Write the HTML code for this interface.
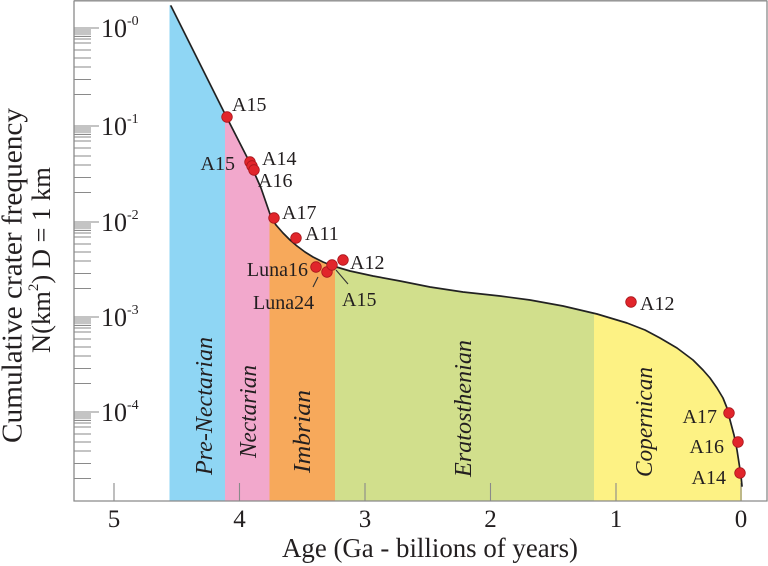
<!DOCTYPE html>
<html>
<head>
<meta charset="utf-8">
<style>
  html, body { margin: 0; padding: 0; background: #ffffff; }
  svg { display: block; }
  text { font-family: "Liberation Serif", "DejaVu Serif", serif; fill: #231f20; }
</style>
</head>
<body>
<svg width="768" height="566" viewBox="0 0 768 566" xmlns="http://www.w3.org/2000/svg">
  <rect x="0" y="0" width="768" height="566" fill="#ffffff"/>
  <defs>
    <clipPath id="under">
      <polygon points="169.5,5 171,6 198,60 225,114 250,163 261,188 271,217 276,225 283,233 290,240 297,246 305,252 313,257 323,262 333,266 350,271 373,276 400,281 430,287 463,292 500,296 530,300 563,306 597,314 627,323 645,330 660,338 677,348 693,360 703,370 710,378 717,388 723,398 727,408 730,420 734,435 737,450 739,463 741,476 742,486 742,501 169.5,501"/>
    </clipPath>
  </defs>

  <!-- period bands -->
  <g clip-path="url(#under)">
    <rect x="169.5" y="0" width="55.5" height="502" fill="#8fd6f4"/>
    <rect x="225" y="0" width="44.5" height="502" fill="#f2a8cc"/>
    <rect x="269.5" y="0" width="65.5" height="502" fill="#f7a95b"/>
    <rect x="335" y="0" width="259" height="502" fill="#d1df8c"/>
    <rect x="594" y="0" width="149" height="502" fill="#fdf284"/>
  </g>

  <!-- frame -->
  <g stroke="#8a8a8a" stroke-width="1.3" fill="none">
    <line x1="74" y1="0.8" x2="767" y2="0.8"/>
    <line x1="74" y1="0.5" x2="74" y2="501.5"/>
    <line x1="767" y1="0.5" x2="767" y2="501.5"/>
    <line x1="73.5" y1="501" x2="767.5" y2="501"/>
  </g>

  <!-- y ticks -->
  <path stroke="#8a8a8a" stroke-width="1.1" fill="none" d="
    M74 28H99 M74 30H91 M74 32H91 M74 34H91 M74 36.4H91 M74 39H91 M74 43H91 M74 50H91 M74 58H91 M74 67H91 M74 79.5H91 M74 94.5H91
    M74 126H99 M74 128H91 M74 130H91 M74 132H91 M74 134.4H91 M74 137H91 M74 141H91 M74 148H91 M74 156H91 M74 165H91 M74 177.5H91 M74 192.5H91
    M74 222H99 M74 224H91 M74 226H91 M74 228H91 M74 230.4H91 M74 233H91 M74 237H91 M74 244H91 M74 252H91 M74 261H91 M74 273.5H91 M74 288.5H91
    M74 317H99 M74 319H91 M74 321H91 M74 323H91 M74 325.4H91 M74 328H91 M74 332H91 M74 339H91 M74 347H91 M74 356H91 M74 368.5H91 M74 383.5H91
    M74 412H99 M74 414H91 M74 416H91 M74 418H91 M74 420.4H91 M74 423H91 M74 427H91 M74 434H91 M74 442H91 M74 451H91 M74 463.5H91 M74 478.5H91"/>

  <!-- x ticks -->
  <path stroke="#8a8a8a" stroke-width="1.1" fill="none" d="M114 483V501 M239.5 483V501 M365 483V501 M490.5 483V501 M616 483V501 M741 483V501"/>

  <!-- y tick labels -->
  <g font-size="26" fill="#333">
    <text x="101" y="37">10<tspan font-size="14" dy="-12">-0</tspan></text>
    <text x="101" y="135">10<tspan font-size="14" dy="-12">-1</tspan></text>
    <text x="101" y="231">10<tspan font-size="14" dy="-12">-2</tspan></text>
    <text x="101" y="326">10<tspan font-size="14" dy="-12">-3</tspan></text>
    <text x="101" y="421">10<tspan font-size="14" dy="-12">-4</tspan></text>
  </g>

  <!-- x tick labels -->
  <g font-size="25" text-anchor="middle">
    <text x="114" y="527">5</text>
    <text x="239.5" y="527">4</text>
    <text x="365" y="527">3</text>
    <text x="490.5" y="527">2</text>
    <text x="616" y="527">1</text>
    <text x="741" y="527">0</text>
  </g>

  <!-- axis titles -->
  <text x="282" y="557" font-size="27" textLength="296" lengthAdjust="spacingAndGlyphs">Age (Ga - billions of years)</text>
  <text transform="translate(21.5,443) rotate(-90)" font-size="29" textLength="335" lengthAdjust="spacingAndGlyphs">Cumulative crater frequency</text>
  <text transform="translate(50,353) rotate(-90)" font-size="26.5">N(km<tspan font-size="15" dy="-12">2</tspan><tspan dy="12">) D = 1 km</tspan></text>

  <!-- period labels -->
  <g font-size="24" font-style="italic">
    <text transform="translate(212,475) rotate(-90)" fill="#1f3c5d" textLength="138" lengthAdjust="spacingAndGlyphs">Pre-Nectarian</text>
    <text transform="translate(256,458) rotate(-90)" fill="#5b2a4e" textLength="93" lengthAdjust="spacingAndGlyphs">Nectarian</text>
    <text transform="translate(310,473) rotate(-90)" fill="#4c2a10" textLength="83" lengthAdjust="spacingAndGlyphs">Imbrian</text>
    <text transform="translate(471,477) rotate(-90)" fill="#3b4020" textLength="137" lengthAdjust="spacingAndGlyphs">Eratosthenian</text>
    <text transform="translate(652,477) rotate(-90)" fill="#3d3a1a" textLength="110" lengthAdjust="spacingAndGlyphs">Copernican</text>
  </g>

  <!-- curve -->
  <polyline fill="none" stroke="#222" stroke-width="1.7" stroke-linejoin="round" stroke-linecap="round"
    points="171,6 198,60 225,114 250,163 261,188 271,217 276,225 283,233 290,240 297,246 305,252 313,257 323,262 333,266 350,271 373,276 400,281 430,287 463,292 500,296 530,300 563,306 597,314 627,323 645,330 660,338 677,348 693,360 703,370 710,378 717,388 723,398 727,408 730,420 734,435 737,450 739,463 741,476 742,486"/>

  <!-- leader lines -->
  <g stroke="#333" stroke-width="1.1">
    <line x1="318" y1="277" x2="313" y2="287"/>
    <line x1="336" y1="270" x2="348" y2="284"/>
  </g>

  <!-- data points -->
  <g fill="#e1252b" stroke="#a8161c" stroke-width="0.8">
    <circle cx="227" cy="117" r="5.3"/>
    <circle cx="250" cy="162" r="5.3"/>
    <circle cx="252" cy="166" r="5.3"/>
    <circle cx="254" cy="170" r="5.3"/>
    <circle cx="274" cy="218" r="5.3"/>
    <circle cx="296" cy="238" r="5.3"/>
    <circle cx="316" cy="267" r="5.3"/>
    <circle cx="327" cy="272" r="5.3"/>
    <circle cx="332" cy="265" r="5.3"/>
    <circle cx="343" cy="260" r="5.3"/>
    <circle cx="631" cy="302" r="5.3"/>
    <circle cx="729" cy="413" r="5.3"/>
    <circle cx="738" cy="442" r="5.3"/>
    <circle cx="740" cy="473" r="5.3"/>
  </g>

  <!-- point labels -->
  <g font-size="20" fill="#2a2a2a">
    <text x="232" y="111">A15</text>
    <text x="235" y="170" text-anchor="end">A15</text>
    <text x="262" y="165">A14</text>
    <text x="258" y="187">A16</text>
    <text x="282" y="219">A17</text>
    <text x="305" y="240">A11</text>
    <text x="350" y="269">A12</text>
    <text x="308" y="276" text-anchor="end">Luna16</text>
    <text x="253" y="309">Luna24</text>
    <text x="342" y="306">A15</text>
    <text x="640" y="310">A12</text>
    <text x="717" y="423" text-anchor="end">A17</text>
    <text x="724" y="453" text-anchor="end">A16</text>
    <text x="726" y="484" text-anchor="end">A14</text>
  </g>
</svg>
</body>
</html>
